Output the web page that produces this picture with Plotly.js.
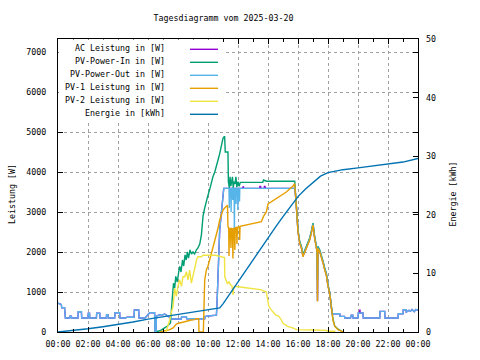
<!DOCTYPE html>
<html><head><meta charset="utf-8">
<script src="https://cdn.plot.ly/plotly-3.0.1.min.js"></script>
<style>html,body{margin:0;padding:0;background:#fff}#chart{width:480px;height:360px}</style>
</head><body><div id="chart"></div>
<script>
// ---------- data ----------
const chartTitle = 'Tagesdiagramm vom 2025-03-20';
const leftAxisTitle = 'Leistung [W]';
const rightAxisTitle = 'Energie [kWh]';
const seriesNames = ['AC Leistung in [W]', 'PV-Power-In in [W]', 'PV-Power-Out in [W]', 'PV-1 Leistung in [W]', 'PV-2 Leistung in [W]', 'Energie in [kWh]'];
const tickHours = [0, 2, 4, 6, 8, 10, 12, 14, 16, 18, 20, 22, 24];
const tickLabels = ['00:00', '02:00', '04:00', '06:00', '08:00', '10:00', '12:00', '14:00', '16:00', '18:00', '20:00', '22:00', '00:00'];
const leftTicks = [0, 1000, 2000, 3000, 4000, 5000, 6000, 7000];
const rightTicks = [0, 10, 20, 30, 40, 50];

// PV-Power-Out (hours, W)
const pvOutTime = [0, 0.1, 0.22, 0.25, 0.44, 0.49, 0.78, 0.8, 0.89, 0.91, 1.33, 1.35, 1.56, 1.58, 2.0, 2.02, 2.1, 2.12, 2.56, 2.58, 2.78, 2.8, 3.22, 3.24, 3.33, 3.35, 3.78, 3.8, 4.11, 4.13, 4.5, 4.6, 5.07, 5.09, 5.38, 5.4, 5.8, 6.11, 6.44, 6.46, 6.54, 6.56, 6.8, 7.0, 7.1, 7.33, 7.56, 8.22, 8.24, 8.56, 8.58, 9.78, 9.8, 10.0, 10.3, 10.56, 10.6, 10.67, 10.78, 10.89, 11.0, 11.05, 11.4, 11.42, 11.44, 11.52, 11.54, 11.56, 11.63, 11.65, 11.67, 11.74, 11.76, 11.78, 11.85, 11.87, 11.89, 11.97, 11.99, 12.01, 12.08, 12.1, 12.12, 15.8, 15.89, 16.0, 16.11, 16.23, 16.33, 16.45, 16.56, 16.67, 16.78, 16.89, 17.0, 17.11, 17.23, 17.27, 17.3, 17.33, 17.45, 17.56, 17.67, 17.78, 17.89, 18.0, 18.11, 18.23, 18.28, 18.78, 18.8, 19.1, 19.12, 19.5, 19.55, 19.65, 19.67, 20.0, 20.02, 20.33, 20.35, 21.45, 21.47, 21.78, 21.8, 22.67, 22.69, 23.0, 23.02, 23.2, 23.22, 23.4, 23.5, 23.6, 23.75, 23.85, 24.0];
const pvOutPower = [720, 700, 690, 605, 605, 350, 350, 395, 395, 350, 350, 505, 505, 350, 350, 470, 470, 350, 350, 470, 470, 350, 350, 430, 430, 350, 350, 480, 480, 350, 350, 370, 370, 550, 550, 350, 350, 480, 480, 0, 0, 400, 430, 430, 450, 400, 325, 325, 380, 380, 330, 330, 385, 400, 410, 420, 700, 1400, 2550, 2970, 3300, 3590, 3590, 3100, 3590, 3590, 3000, 3590, 3590, 3300, 3590, 3590, 2400, 3590, 3590, 3200, 3590, 3590, 3050, 3590, 3590, 3260, 3590, 3590, 3150, 2520, 2240, 2110, 1900, 2020, 2120, 2240, 2320, 2490, 2690, 2360, 2070, 2020, 780, 2110, 2020, 1900, 1740, 1570, 1440, 1160, 990, 610, 455, 455, 390, 390, 350, 350, 420, 420, 350, 350, 475, 475, 350, 350, 515, 515, 350, 350, 455, 455, 555, 555, 500, 540, 520, 560, 510, 560, 550];

// AC Leistung (hours, W) - almost identical to PV-Power-Out
const acTime = [0, 0.1, 0.22, 0.25, 0.44, 0.49, 0.78, 0.8, 0.89, 0.91, 1.33, 1.35, 1.56, 1.58, 2.0, 2.02, 2.1, 2.12, 2.56, 2.58, 2.78, 2.8, 3.22, 3.24, 3.33, 3.35, 3.78, 3.8, 4.11, 4.13, 4.5, 4.6, 5.07, 5.09, 5.38, 5.4, 5.8, 6.11, 6.44, 6.46, 6.54, 6.56, 6.8, 7.0, 7.1, 7.33, 7.56, 8.22, 8.24, 8.56, 8.58, 9.78, 9.8, 10.0, 10.3, 10.56, 10.6, 10.67, 10.78, 10.89, 11.0, 11.05, 12.3, 12.31, 12.36, 12.37, 13.45, 13.46, 13.51, 13.52, 13.75, 13.76, 13.8, 13.81, 15.8, 15.89, 16.0, 16.11, 16.23, 16.33, 16.45, 16.56, 16.67, 16.78, 16.89, 17.0, 17.11, 17.23, 17.27, 17.3, 17.33, 17.45, 17.56, 17.67, 17.78, 17.89, 18.0, 18.11, 18.23, 18.28, 18.78, 18.8, 19.1, 19.12, 19.5, 19.55, 19.65, 19.67, 20.0, 20.02, 20.08, 20.09, 20.13, 20.14, 20.33, 20.35, 21.45, 21.47, 21.78, 21.8, 22.67, 22.69, 23.0, 23.02, 23.2, 23.22, 23.4, 23.5, 23.6, 23.75, 23.85, 24.0];
const acPower = [720, 700, 690, 605, 605, 350, 350, 395, 395, 350, 350, 505, 505, 350, 350, 470, 470, 350, 350, 470, 470, 350, 350, 430, 430, 350, 350, 480, 480, 350, 350, 370, 370, 550, 550, 350, 350, 480, 480, 0, 0, 400, 430, 430, 450, 400, 325, 325, 380, 380, 330, 330, 385, 400, 410, 420, 700, 1400, 2550, 2970, 3300, 3590, 3590, 3640, 3640, 3590, 3590, 3640, 3640, 3590, 3590, 3640, 3640, 3590, 3590, 3150, 2520, 2240, 2110, 1900, 2020, 2120, 2240, 2320, 2490, 2690, 2360, 2070, 2020, 780, 2110, 2020, 1900, 1740, 1570, 1440, 1160, 990, 610, 455, 455, 390, 390, 350, 350, 420, 420, 350, 350, 475, 475, 560, 560, 475, 475, 350, 350, 515, 515, 350, 350, 455, 455, 555, 555, 500, 540, 520, 560, 510, 560, 550];

// PV-Power-In (hours, W)
const pvInTime = [6.45, 6.8, 7.0, 7.3, 7.5, 7.56, 7.62, 7.7, 7.78, 7.85, 7.95, 8.05, 8.12, 8.2, 8.3, 8.38, 8.47, 8.55, 8.62, 8.7, 8.8, 8.9, 9.0, 9.11, 9.22, 9.33, 9.45, 9.56, 9.67, 9.78, 9.89, 10.0, 10.11, 10.22, 10.33, 10.45, 10.56, 10.67, 10.78, 10.89, 11.0, 11.08, 11.11, 11.15, 11.33, 11.36, 11.42, 11.47, 11.52, 11.58, 11.63, 11.68, 11.74, 11.8, 11.86, 11.92, 12.0, 12.08, 12.15, 13.65, 13.7, 13.9, 15.78, 15.89, 16.0, 16.11, 16.23, 16.33, 16.45, 16.56, 16.67, 16.78, 16.89, 17.0, 17.11, 17.23, 17.27, 17.3, 17.33, 17.45, 17.56, 17.67, 17.78, 17.89, 18.0, 18.11, 18.23, 18.33, 18.45, 18.67, 19.0];
const pvInPower = [0, 30, 80, 150, 225, 640, 850, 1220, 1100, 1390, 1250, 1510, 1640, 1500, 1800, 1650, 1930, 1800, 2000, 1850, 2050, 1950, 2000, 1950, 2050, 2100, 2200, 2430, 2900, 3100, 3300, 3420, 3560, 3750, 3880, 4000, 4130, 4300, 4460, 4650, 4840, 4880, 4880, 4500, 4500, 3750, 3600, 3880, 3650, 3760, 3880, 3600, 3760, 3700, 3880, 3620, 3760, 3640, 3740, 3740, 3800, 3770, 3770, 3180, 2550, 2270, 2140, 1930, 2050, 2150, 2270, 2350, 2520, 2720, 2390, 2100, 2050, 1300, 2140, 2050, 1930, 1770, 1600, 1470, 1180, 1000, 620, 320, 150, 70, 0];

// PV-1 Leistung (hours, W)
const pv1Time = [6.78, 7.0, 7.23, 7.45, 7.67, 7.89, 8.05, 8.23, 8.56, 8.89, 9.1, 9.23, 9.38, 9.4, 9.69, 9.71, 9.78, 9.89, 10.0, 10.11, 10.22, 10.33, 10.45, 10.56, 10.67, 10.78, 10.89, 11.0, 11.11, 11.23, 11.3, 11.33, 11.38, 11.4, 11.43, 11.5, 11.53, 11.56, 11.63, 11.66, 11.69, 11.76, 11.79, 11.82, 11.9, 11.93, 11.96, 12.08, 12.11, 12.14, 12.5, 12.9, 13.3, 13.56, 13.7, 13.89, 14.0, 14.33, 14.78, 15.22, 15.67, 15.78, 15.89, 16.0, 16.11, 16.23, 16.33, 16.45, 16.56, 16.67, 16.78, 16.89, 17.0, 17.11, 17.23, 17.27, 17.3, 17.33, 17.45, 17.56, 17.67, 17.78, 17.89, 18.0, 18.11, 18.23, 18.33, 18.45, 18.67, 19.0];
const pv1Power = [0, 15, 30, 60, 100, 200, 220, 240, 265, 300, 310, 330, 330, 0, 0, 640, 1300, 1550, 1650, 1800, 1950, 2130, 2300, 2470, 2600, 2800, 2950, 3050, 3100, 3150, 3170, 2630, 2600, 1900, 2600, 2580, 2100, 2600, 2560, 1840, 2600, 2580, 2050, 2600, 2620, 2200, 2620, 2630, 2300, 2640, 2670, 2700, 2730, 2760, 2890, 3000, 3200, 3280, 3400, 3500, 3650, 3710, 3130, 2500, 2220, 2090, 1880, 2000, 2100, 2220, 2300, 2470, 2670, 2340, 2050, 2000, 760, 2090, 2000, 1880, 1720, 1550, 1420, 1140, 970, 600, 300, 140, 60, 0];

// PV-2 Leistung (hours, W)
const pv2Time = [7.2, 7.45, 7.56, 7.67, 7.78, 7.89, 8.0, 8.11, 8.23, 8.33, 8.45, 8.56, 8.67, 8.78, 8.89, 9.0, 9.12, 9.23, 9.33, 9.56, 9.67, 10.5, 11.1, 11.12, 11.2, 11.3, 11.4, 11.5, 11.6, 11.67, 11.72, 11.78, 12.0, 12.56, 13.0, 13.5, 13.89, 14.0, 14.05, 14.2, 14.35, 14.5, 14.7, 14.85, 15.0, 15.15, 15.3, 15.6, 15.9, 17.0, 17.9, 18.0, 18.5];
const pv2Power = [0, 300, 500, 640, 1090, 890, 1150, 1300, 1140, 1380, 1380, 1510, 1300, 1550, 1220, 1450, 1600, 1800, 1880, 1880, 1920, 1920, 1860, 1380, 1300, 1200, 1260, 1180, 1150, 930, 1120, 1140, 1130, 1100, 1080, 1060, 1000, 800, 650, 560, 480, 430, 400, 330, 220, 180, 140, 110, 60, 50, 40, 20, 20];

// Energie (hours, kWh)
const energyTime = [0, 1, 2, 3, 4, 5, 6, 7, 8, 9, 10, 10.5, 10.78, 11, 11.5, 12, 12.5, 13, 13.5, 14, 14.5, 15, 15.5, 16, 16.5, 17, 17.5, 18, 18.5, 19, 20, 21, 22, 23, 24];
const energyKWh = [0, 0.25, 0.55, 0.9, 1.25, 1.7, 2.2, 2.6, 3.0, 3.3, 3.8, 4.0, 4.1, 4.8, 6.7, 8.6, 10.4, 12.3, 14.1, 16.0, 17.9, 19.7, 21.4, 23.1, 24.4, 25.5, 26.6, 27.2, 27.5, 27.7, 28.0, 28.3, 28.6, 29.0, 29.6];

// ---------- styles / layout ----------
const COLORS = ['#9400d3', '#009e73', '#56b4e9', '#e69f00', '#f0e442', '#0072b2'];
const FONT = 'DejaVu Sans Mono, Liberation Mono, monospace';
const FS = 8.3;
const PL = 58, PR = 418, PT = 39, PB = 332;
const px2x = px => (px - PL) / (PR - PL);
const px2y = py => (PB - py) / (PB - PT);

const seriesX = [acTime, pvInTime, pvOutTime, pv1Time, pv2Time, energyTime];
const seriesY = [acPower, pvInPower, pvOutPower, pv1Power, pv2Power, energyKWh];

const traces = seriesNames.map((name, i) => ({
  type: 'scatter', mode: 'lines', name: name,
  x: seriesX[i], y: seriesY[i],
  yaxis: i === 5 ? 'y2' : 'y',
  line: {color: COLORS[i], width: 1.4},
  showlegend: false, hoverinfo: 'skip'
}));

const annotations = [];
const shapes = [];
// white key box hiding the grid behind the key
shapes.push({type: 'rect', xref: 'paper', yref: 'paper', layer: 'above',
  x0: px2x(PL + 0.5), x1: px2x(223), y0: px2y(120), y1: px2y(PT + 0.5),
  fillcolor: '#fff', line: {width: 0}});
seriesNames.forEach((name, i) => {
  const ly = 49.3 + 13 * i;
  annotations.push({xref: 'paper', yref: 'paper', x: px2x(166), y: px2y(ly - 1.5), text: name,
    showarrow: false, xanchor: 'right', yanchor: 'middle', borderpad: 0,
    font: {family: FONT, size: FS, color: '#000'}});
  shapes.push({type: 'line', xref: 'paper', yref: 'paper', layer: 'above', x0: px2x(190), x1: px2x(218), y0: px2y(ly), y1: px2y(ly),
    line: {color: COLORS[i], width: 1.4}});
});
annotations.push({xref: 'paper', yref: 'paper', x: px2x(12), y: px2y(194), text: leftAxisTitle, textangle: -90,
  showarrow: false, xanchor: 'center', yanchor: 'middle', font: {family: FONT, size: FS, color: '#000'}});
annotations.push({xref: 'paper', yref: 'paper', x: px2x(452), y: px2y(194.5), text: rightAxisTitle, textangle: -90,
  showarrow: false, xanchor: 'center', yanchor: 'middle', font: {family: FONT, size: FS, color: '#000'}});

const tickFont = {family: FONT, size: FS, color: '#000'};
const layout = {
  width: 480, height: 360,
  margin: {l: PL, r: 480 - PR, t: PT, b: 360 - PB, pad: 0},
  paper_bgcolor: '#fff', plot_bgcolor: '#fff',
  showlegend: false,
  title: {text: chartTitle, font: {family: FONT, size: FS, color: '#000'},
    xref: 'container', yref: 'container', x: 223.5 / 480, y: 1 - 18 / 360, xanchor: 'center', yanchor: 'middle'},
  xaxis: {range: [0, 24], tickmode: 'array', tickvals: tickHours, ticktext: tickLabels,
    ticks: 'inside', ticklen: 5, tickcolor: '#000', tickwidth: 1,
    minor: {dtick: 1, tick0: 0, ticks: 'inside', ticklen: 3, tickcolor: '#000', showgrid: false},
    showline: true, linecolor: '#000', linewidth: 1, mirror: 'ticks',
    showgrid: true, gridcolor: '#a0a0a0', griddash: '3px,3px', gridwidth: 1,
    zeroline: false, tickfont: tickFont, ticklabelstandoff: 4, fixedrange: true},
  yaxis: {range: [0, 7325], tickmode: 'array', tickvals: leftTicks, ticktext: leftTicks.map(String),
    ticks: 'inside', ticklen: 5, tickcolor: '#000', tickwidth: 1,
    showline: true, linecolor: '#000', linewidth: 1, mirror: 'ticks',
    showgrid: true, gridcolor: '#a0a0a0', griddash: '3px,3px', gridwidth: 1,
    zeroline: false, tickfont: tickFont, ticklabelstandoff: 9, fixedrange: true},
  yaxis2: {range: [0, 50], overlaying: 'y', side: 'right', tickmode: 'array', tickvals: rightTicks, ticktext: rightTicks.map(String),
    ticks: 'inside', ticklen: 5, tickcolor: '#000', tickwidth: 1,
    showline: false, showgrid: false, zeroline: false, tickfont: tickFont, ticklabelstandoff: 7, fixedrange: true},
  annotations: annotations,
  shapes: shapes
};

Plotly.newPlot('chart', traces, layout, {displayModeBar: false, staticPlot: true});
</script>
</body></html>
